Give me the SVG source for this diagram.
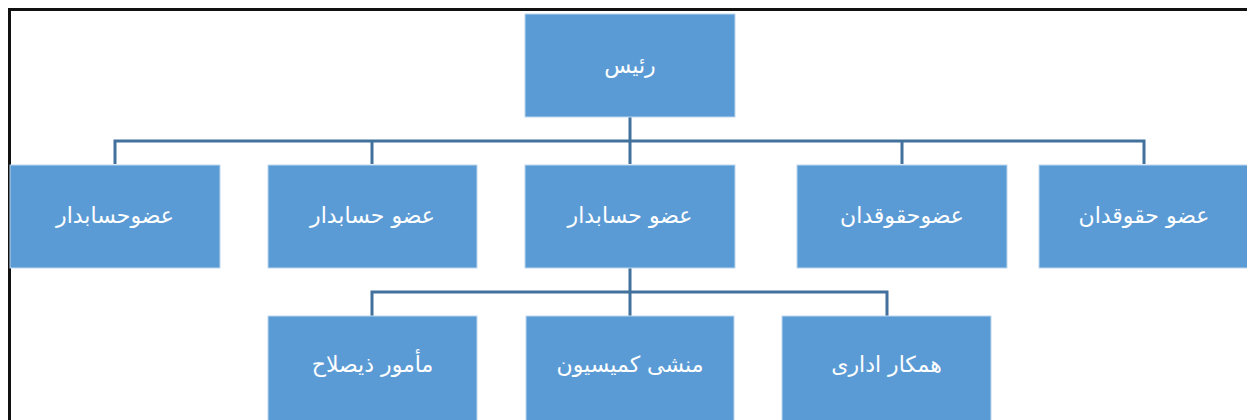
<svg xmlns="http://www.w3.org/2000/svg" width="1247" height="420" viewBox="0 0 1247 420">
<style>
.box{fill:#5B9BD5;stroke:#BDD7EE;stroke-width:1}
.lbl{fill:#FFFFFF;font-family:"DejaVu Sans","Noto Sans",sans-serif;font-size:22px;text-anchor:middle}
.conn{fill:none;stroke:#41719C;stroke-width:3}
.frame{fill:none;stroke:#111111;stroke-width:3}
</style>
<rect x="0" y="0" width="1247" height="420" fill="#FFFFFF"/>
<path class="frame" d="M9.5,420 V9.5 H1247"/>
<g id="connectors">
<path class="conn" d="M630,117 V164"/>
<path class="conn" d="M115,164 V141 H1144 V164"/>
<path class="conn" d="M372,141 V164"/>
<path class="conn" d="M902,141 V164"/>
<path class="conn" d="M630,268 V316"/>
<path class="conn" d="M372,316 V292 H887 V316"/>
</g>
<g id="root"><rect class="box" x="525" y="14" width="210" height="103"/><text class="lbl" x="630" y="73">رئیس</text></g>
<g id="n1"><rect class="box" x="10" y="165" width="210" height="103"/><text class="lbl" x="115" y="223">عضوحسابدار</text></g>
<g id="n2"><rect class="box" x="268" y="165" width="209" height="103"/><text class="lbl" x="372.5" y="223">عضو حسابدار</text></g>
<g id="n3"><rect class="box" x="525" y="165" width="210" height="103"/><text class="lbl" x="630" y="223">عضو حسابدار</text></g>
<g id="n4"><rect class="box" x="797" y="165" width="210" height="103"/><text class="lbl" x="902" y="223">عضوحقوقدان</text></g>
<g id="n5"><rect class="box" x="1039" y="165" width="210" height="103"/><text class="lbl" x="1144" y="223">عضو حقوقدان</text></g>
<g id="c1"><rect class="box" x="268" y="316" width="209" height="106"/><text class="lbl" x="372.5" y="372">مأمور ذیصلاح</text></g>
<g id="c2"><rect class="box" x="526" y="316" width="208" height="106"/><text class="lbl" x="630" y="372">منشی کمیسیون</text></g>
<g id="c3"><rect class="box" x="782" y="316" width="209" height="106"/><text class="lbl" x="886.5" y="372">همکار اداری</text></g>
</svg>
